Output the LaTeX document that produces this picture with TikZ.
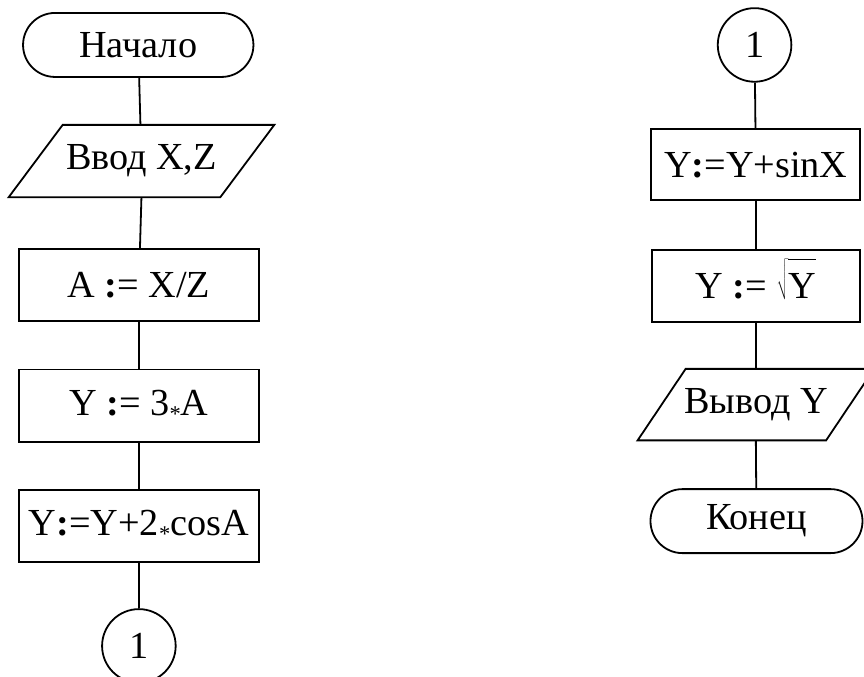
\documentclass[tikz,border=0pt]{standalone}
\usepackage{fontspec}
\setmainfont{Liberation Serif}
\usetikzlibrary{positioning}
\tikzset{
  linea/.style={line width=1.6pt},
  bloque/.style={draw,linea,minimum width=7.5cm,minimum height=2.25cm,inner sep=0pt},
  terminal/.style={draw,linea,rounded corners=1cm,minimum width=7.2cm,minimum height=2cm,inner sep=0pt},
  datos/.style={minimum width=6.6cm,minimum height=2.25cm,inner sep=0pt},
  conector/.style={draw,circle,linea,minimum size=2.3cm,inner sep=0pt}
}
\newcommand{\paralelo}[2]{%
  \draw[linea] ([xshift=#2]#1.north west) -- ([xshift=#2]#1.north east)
    -- ([xshift=-#2]#1.south east) -- ([xshift=-#2]#1.south west) -- cycle;}
\newcommand{\por}{\raisebox{-0.35ex}{\fontsize{20}{20}\selectfont *}}
\newcommand{\asig}{{\bfseries:}=}

\begin{document}
\begin{tikzpicture}[x=1cm,y=1cm,font=\fontsize{34}{40}\selectfont]
  \useasboundingbox (0,0) rectangle (27,21.125);
  % columna izquierda
  \node[terminal] (inicio) at (4.32,19.72) {Начало};
  \node[datos] (entrada) at (4.42,16.09) {Ввод X,Z};
  \paralelo{entrada}{0.845cm}
  \node[bloque] (a) at (4.34,12.22) {A \asig{} X/Z};
  \node[bloque] (y1) at (4.34,8.45) {Y \asig{} 3\por A};
  \node[bloque] (y2) at (4.34,4.70) {Y\asig Y+2\por cosA};
  \node[conector] (c1) at (4.34,0.94) {1};
  \draw[linea] (inicio) -- (entrada);
  \draw[linea] (entrada.south) -- (a);
  \draw[linea] (a) -- (y1);
  \draw[linea] (y1) -- (y2);
  \draw[linea] (y2) -- (c1);
  % columna derecha
  \node[conector] (c2) at (23.58,19.72) {1};
  \node[bloque,minimum width=6.53cm,minimum height=2.22cm] (y3) at (23.62,15.98) {Y\asig Y+sinX};
  \node[bloque,minimum width=6.5cm] (y4) at (23.62,12.19) {Y \asig{} \smash{$\sqrt{\hbox{Y}\rule{0pt}{0.95em}}$}};
  \node[datos,minimum width=5.875cm,minimum height=2.22cm] (salida) at (23.62,8.48) {Вывод Y};
  \paralelo{salida}{0.75cm}
  \node[terminal,minimum width=6.625cm] (fin) at (23.64,4.84) {Конец};
  \draw[linea] (c2) -- (y3);
  \draw[linea] (y3) -- (y4);
  \draw[linea] (y4) -- (salida.north);
  \draw[linea] (salida.south) -- (fin);
\end{tikzpicture}
\end{document}
